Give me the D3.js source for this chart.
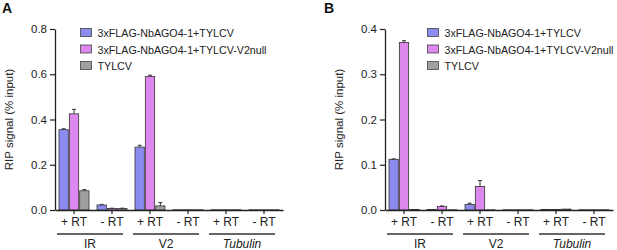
<!DOCTYPE html>
<html><head><meta charset="utf-8">
<script src="https://cdn.jsdelivr.net/npm/d3@7"></script>
<style>body{margin:0;background:#fff}svg{display:block;font-family:Arial,"Liberation Sans",sans-serif}</style>
</head><body><svg id="c" width="617" height="250"></svg>
<script>
const categories = ["IR +RT","IR -RT","V2 +RT","V2 -RT","Tubulin +RT","Tubulin -RT"];
const tickLabels = ["+ RT","- RT","+ RT","- RT","+ RT","- RT"];
const groups = ["IR","V2","Tubulin"];
const seriesNames = ["3xFLAG-NbAGO4-1+TYLCV","3xFLAG-NbAGO4-1+TYLCV-V2null","TYLCV"];
const colors = ["#8c8cf0","#dc88ee","#a0a0a0"];
// Panel A values and errors
const aBlue = [0.355,0.022,0.278,0.001,0.001,0.001];
const aPink = [0.425,0.007,0.590,0.001,0.001,0.001];
const aGray = [0.085,0.007,0.018,0.001,0.001,0.001];
const aBlueErr = [0.004,0.003,0.008,0,0,0];
const aPinkErr = [0.020,0.001,0.006,0,0,0];
const aGrayErr = [0.005,0.001,0.015,0,0,0];
const aTicks = [0,0.2,0.4,0.6,0.8];
// Panel B values and errors
const bBlue = [0.112,0.001,0.012,0.0005,0.001,0.0005];
const bPink = [0.370,0.008,0.052,0.0005,0.001,0.0005];
const bGray = [0.001,0.0005,0.0005,0.0005,0.002,0.0005];
const bBlueErr = [0.001,0,0.003,0,0,0];
const bPinkErr = [0.004,0.001,0.013,0,0,0];
const bGrayErr = [0,0,0,0,0,0];
const bTicks = [0,0.1,0.2,0.3,0.4];

const svg = d3.select("#c");

function panel(opt){
  const g = svg.append("g");
  const x = d3.scaleBand().domain(categories).range([opt.x0, opt.x0+228]).padding(0);
  const y = d3.scaleLinear().domain([0,opt.max]).range([210,29]);
  const sub = d3.scaleBand().domain([0,1,2]).range([-15,15]).paddingInner(0.1).paddingOuter(0);
  const series = [opt.blue, opt.pink, opt.gray];
  const errs = [opt.blueErr, opt.pinkErr, opt.grayErr];
  series.forEach((vals, si) => {
    vals.forEach((v, ci) => {
      const cx = x(categories[ci]) + x.bandwidth()/2;
      const bx = cx + sub(si);
      const bw = sub.bandwidth();
      g.append("rect").attr("x", bx).attr("y", y(v)).attr("width", bw)
        .attr("height", y(0)-y(v)).attr("fill", colors[si])
        .attr("stroke","#333").attr("stroke-width",0.8);
      const e = errs[si][ci];
      if (e > 0) {
        const mx = bx + bw/2;
        g.append("line").attr("x1",mx).attr("x2",mx).attr("y1",y(v)).attr("y2",y(v+e)).attr("stroke","#333").attr("stroke-width",1);
        g.append("line").attr("x1",mx-2).attr("x2",mx+2).attr("y1",y(v+e)).attr("y2",y(v+e)).attr("stroke","#333").attr("stroke-width",1);
      }
    });
  });
  const ya = g.append("g").attr("transform",`translate(${opt.x0},0)`)
    .call(d3.axisLeft(y).tickValues(opt.ticks).tickFormat(d3.format(".1f")).tickSize(5).tickSizeOuter(0));
  ya.select(".domain").attr("stroke","#222").attr("stroke-width",1.3);
  ya.selectAll(".tick line").attr("stroke","#222").attr("stroke-width",1.2);
  ya.selectAll(".tick text").attr("font-size",11.5).attr("fill","#222").attr("x",-8);
  const xa = g.append("g").attr("transform",`translate(0,210)`)
    .call(d3.axisBottom(x).tickFormat((d,i)=>tickLabels[i]).tickSize(4).tickSizeOuter(0));
  xa.select(".domain").attr("stroke","#222").attr("stroke-width",1.3);
  xa.selectAll(".tick line").attr("stroke","#222").attr("stroke-width",1.2);
  xa.selectAll(".tick text").attr("font-size",12).attr("fill","#222").attr("dy","0.8em").attr("y",6);
  groups.forEach((gname, gi) => {
    const xa0 = x(categories[gi*2]) + 2, xa1 = x(categories[gi*2+1]) + x.bandwidth() - 8;
    g.append("line").attr("x1",xa0).attr("x2",xa1).attr("y1",234).attr("y2",234).attr("stroke","#333").attr("stroke-width",1.5);
    g.append("text").attr("x",(xa0+xa1)/2).attr("y",248).attr("text-anchor","middle")
      .attr("font-size",12).attr("fill","#222").attr("font-style", gname==="Tubulin"?"italic":"normal").text(gname);
  });
  g.append("text").attr("transform",`translate(${opt.x0-42},119.5) rotate(-90)`).attr("text-anchor","middle")
    .attr("font-size",11.5).attr("fill","#222").text("RIP signal (% input)");
  seriesNames.forEach((n, i) => {
    const ly = 33 + i*16.5;
    g.append("rect").attr("x",opt.lx).attr("y",ly-4.5).attr("width",11).attr("height",8)
      .attr("fill",colors[i]).attr("stroke","#444").attr("stroke-width",0.8);
    g.append("text").attr("x",opt.lx+17).attr("y",ly+4).attr("font-size",10.7).attr("fill","#222").text(n);
  });
  g.append("text").attr("x",opt.lx0).attr("y",13).attr("font-weight","bold").attr("font-size",14).attr("fill","#111").text(opt.letter);
}

panel({x0:55, max:0.8, ticks:aTicks, blue:aBlue, pink:aPink, gray:aGray, blueErr:aBlueErr, pinkErr:aPinkErr, grayErr:aGrayErr, lx:80.5, lx0:2, letter:"A"});
panel({x0:385, max:0.4, ticks:bTicks, blue:bBlue, pink:bPink, gray:bGray, blueErr:bBlueErr, pinkErr:bPinkErr, grayErr:bGrayErr, lx:427.5, lx0:324, letter:"B"});
</script></body></html>
